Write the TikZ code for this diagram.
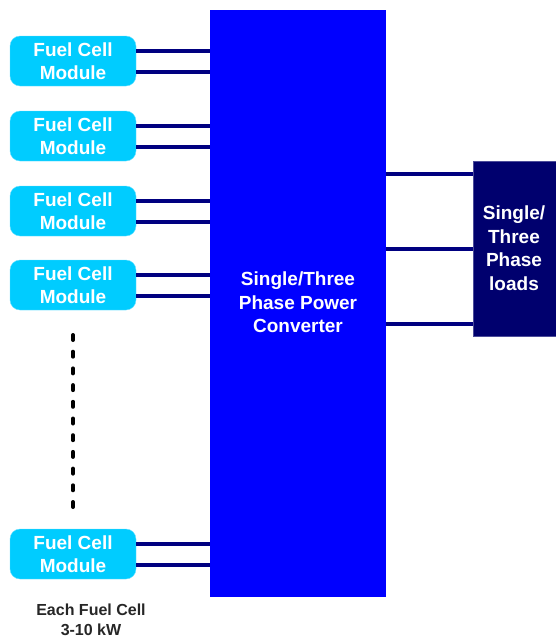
\documentclass[tikz,border=0pt]{standalone}
\usepackage{fontspec}
\setmainfont{Liberation Sans}
\usepackage{tikz}
\usetikzlibrary{positioning,calc}
\definecolor{fccyan}{RGB}{0,204,255}
\definecolor{convblue}{RGB}{0,0,255}
\definecolor{wirenavy}{RGB}{0,0,128}
\definecolor{loadnavy}{RGB}{0,0,110}

\begin{document}
\begin{tikzpicture}[x=1pt,y=-1pt,
    module/.style={draw=fccyan!60, fill=fccyan, rounded corners=10pt, minimum width=126pt, minimum height=50pt,
        inner sep=0pt, align=center, text=white, font=\fontsize{19}{23.5}\selectfont\bfseries},
    wire/.style={wirenavy, line width=4pt},
    bigtext/.style={text=white, align=center, font=\fontsize{19}{23.5}\selectfont\bfseries}]
            \useasboundingbox (0,0) rectangle (556,643);
            % converter and loads
            \node[fill=convblue, minimum width=176pt, minimum height=587pt, inner sep=0pt] (conv) at (298,303.5) {};
            \node[bigtext] (convtxt) at (298,302.5) {Single/Three\\Phase Power\\Converter};
            \node[fill=loadnavy, draw=loadnavy!70, minimum width=84pt, minimum height=175pt, inner sep=0pt] (load) at (515,248.5) {};
            \node[bigtext] (loadtxt) at (514,248) {Single/\\Three\\Phase\\loads};
            \foreach \y in {174,249,324} {
                \draw[wire] (conv.east |- 0,\y) -- (load.west |- 0,\y);
            }
            % fuel cell modules
            \foreach \n/\y in {1/61,2/136,3/211,4/285,5/554} {
                \node[module] (fc\n) at (73,\y) {Fuel Cell\\Module};
                \draw[wire] ($(fc\n.east)+(0,-10)$) -- (conv.west |- 0,\y-10);
                \draw[wire] ($(fc\n.east)+(0,11)$) -- (conv.west |- 0,\y+11);
            }
            \draw[line width=4pt, line cap=round, dash pattern=on 5pt off 11.7pt] (fc4 |- 0,335) -- (fc4 |- 0,514);
            \node[align=center, text=black!85, font=\fontsize{16}{19.5}\selectfont\bfseries] (note) at (91,620) {Each Fuel Cell\\3-10 kW};
        \end{tikzpicture}
\end{document}
